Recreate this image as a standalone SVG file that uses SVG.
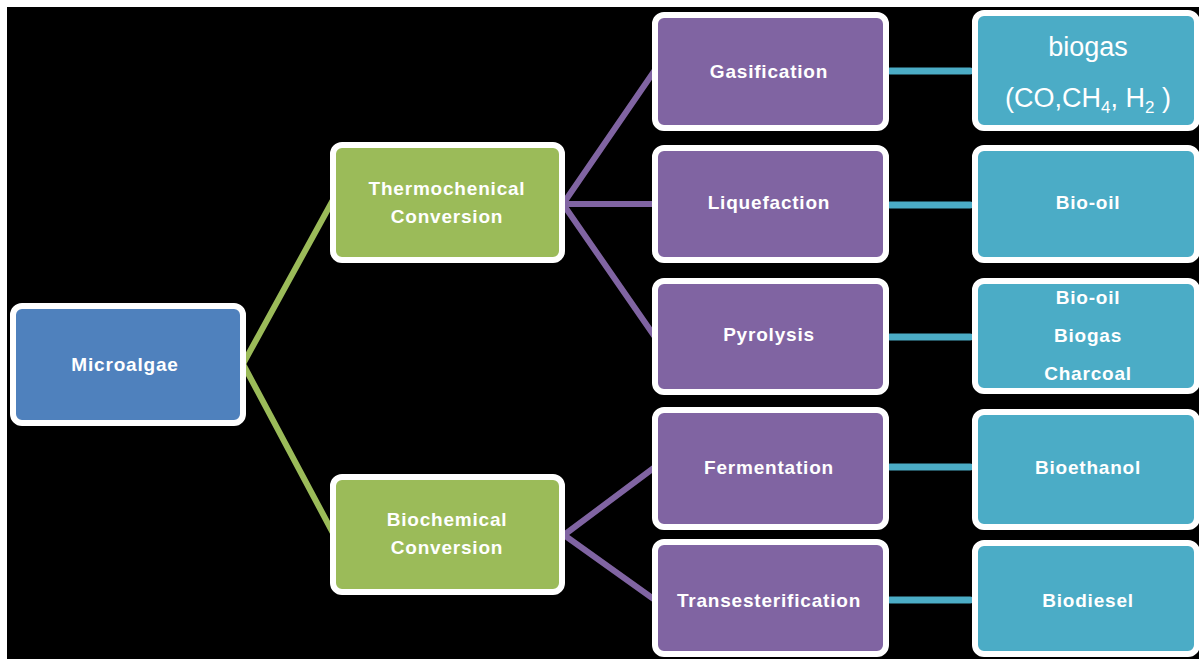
<svg xmlns="http://www.w3.org/2000/svg" width="1199" height="659" viewBox="0 0 1199 659">
<style>
.box{stroke:#fff;stroke-width:6}
.blue{fill:#4f81bd}.green{fill:#9bbb59}.purple{fill:#8064a2}.teal{fill:#4bacc6}
text{font-family:"Liberation Sans",Arial,sans-serif;font-weight:bold;font-size:19px;fill:#fff;text-anchor:middle;letter-spacing:0.8px}
.big{font-weight:normal;font-size:27px;letter-spacing:0}
.sub{font-size:17px}
.c{fill:none;stroke-linecap:round}
</style>
<rect x="0" y="0" width="1199" height="659" fill="#fff"/>
<rect x="7" y="7" width="1192" height="652" fill="#000"/>
<g id="connectors">
<path class="c" d="M243,364 L333,200 M243,364 L333,533" stroke="#9bbb59" stroke-width="6"/>
<path class="c" d="M563,204 L655,70 M563,204 L655,204 M563,204 L655,337 M564,535 L655,467 M564,535 L655,600" stroke="#8064a2" stroke-width="6"/>
<path class="c" d="M890,71 L970,71 M890,205 L970,205 M890,337 L970,337 M890,467 L970,467 M890,600 L970,600" stroke="#4bacc6" stroke-width="7"/>
</g>
<g id="microalgae"><rect class="box blue" x="13" y="306" width="230" height="117" rx="9"/><text x="125" y="371">Microalgae</text></g>
<g id="thermo"><rect class="box green" x="333" y="145" width="229" height="115" rx="9"/><text x="447" y="195">Thermochenical</text><text x="447" y="223">Conversion</text></g>
<g id="biochem"><rect class="box green" x="333" y="477" width="229" height="115" rx="9"/><text x="447" y="526">Biochemical</text><text x="447" y="554">Conversion</text></g>
<g id="gasification"><rect class="box purple" x="655" y="15" width="231" height="113" rx="9"/><text x="769" y="78">Gasification</text></g>
<g id="liquefaction"><rect class="box purple" x="655" y="148" width="231" height="112" rx="9"/><text x="769" y="209">Liquefaction</text></g>
<g id="pyrolysis"><rect class="box purple" x="655" y="281" width="231" height="111" rx="9"/><text x="769" y="341">Pyrolysis</text></g>
<g id="fermentation"><rect class="box purple" x="655" y="410" width="231" height="117" rx="9"/><text x="769" y="474">Fermentation</text></g>
<g id="transesterification"><rect class="box purple" x="655" y="542" width="231" height="112" rx="9"/><text x="769" y="607">Transesterification</text></g>
<g id="biogas"><rect class="box teal" x="975" y="13" width="222" height="115" rx="9"/><text class="big" x="1088" y="56">biogas</text><text class="big" x="1088" y="107">(CO,CH<tspan class="sub" dy="6">4</tspan><tspan dy="-6">, H</tspan><tspan class="sub" dy="6">2</tspan><tspan dy="-6"> )</tspan></text></g>
<g id="biooil"><rect class="box teal" x="975" y="148" width="222" height="112" rx="9"/><text x="1088" y="209">Bio-oil</text></g>
<g id="pyroproducts"><rect class="box teal" x="975" y="281" width="222" height="110" rx="9"/><text x="1088" y="304">Bio-oil</text><text x="1088" y="342">Biogas</text><text x="1088" y="380">Charcoal</text></g>
<g id="bioethanol"><rect class="box teal" x="975" y="412" width="222" height="115" rx="9"/><text x="1088" y="474">Bioethanol</text></g>
<g id="biodiesel"><rect class="box teal" x="975" y="543" width="222" height="111" rx="9"/><text x="1088" y="607">Biodiesel</text></g>
</svg>
